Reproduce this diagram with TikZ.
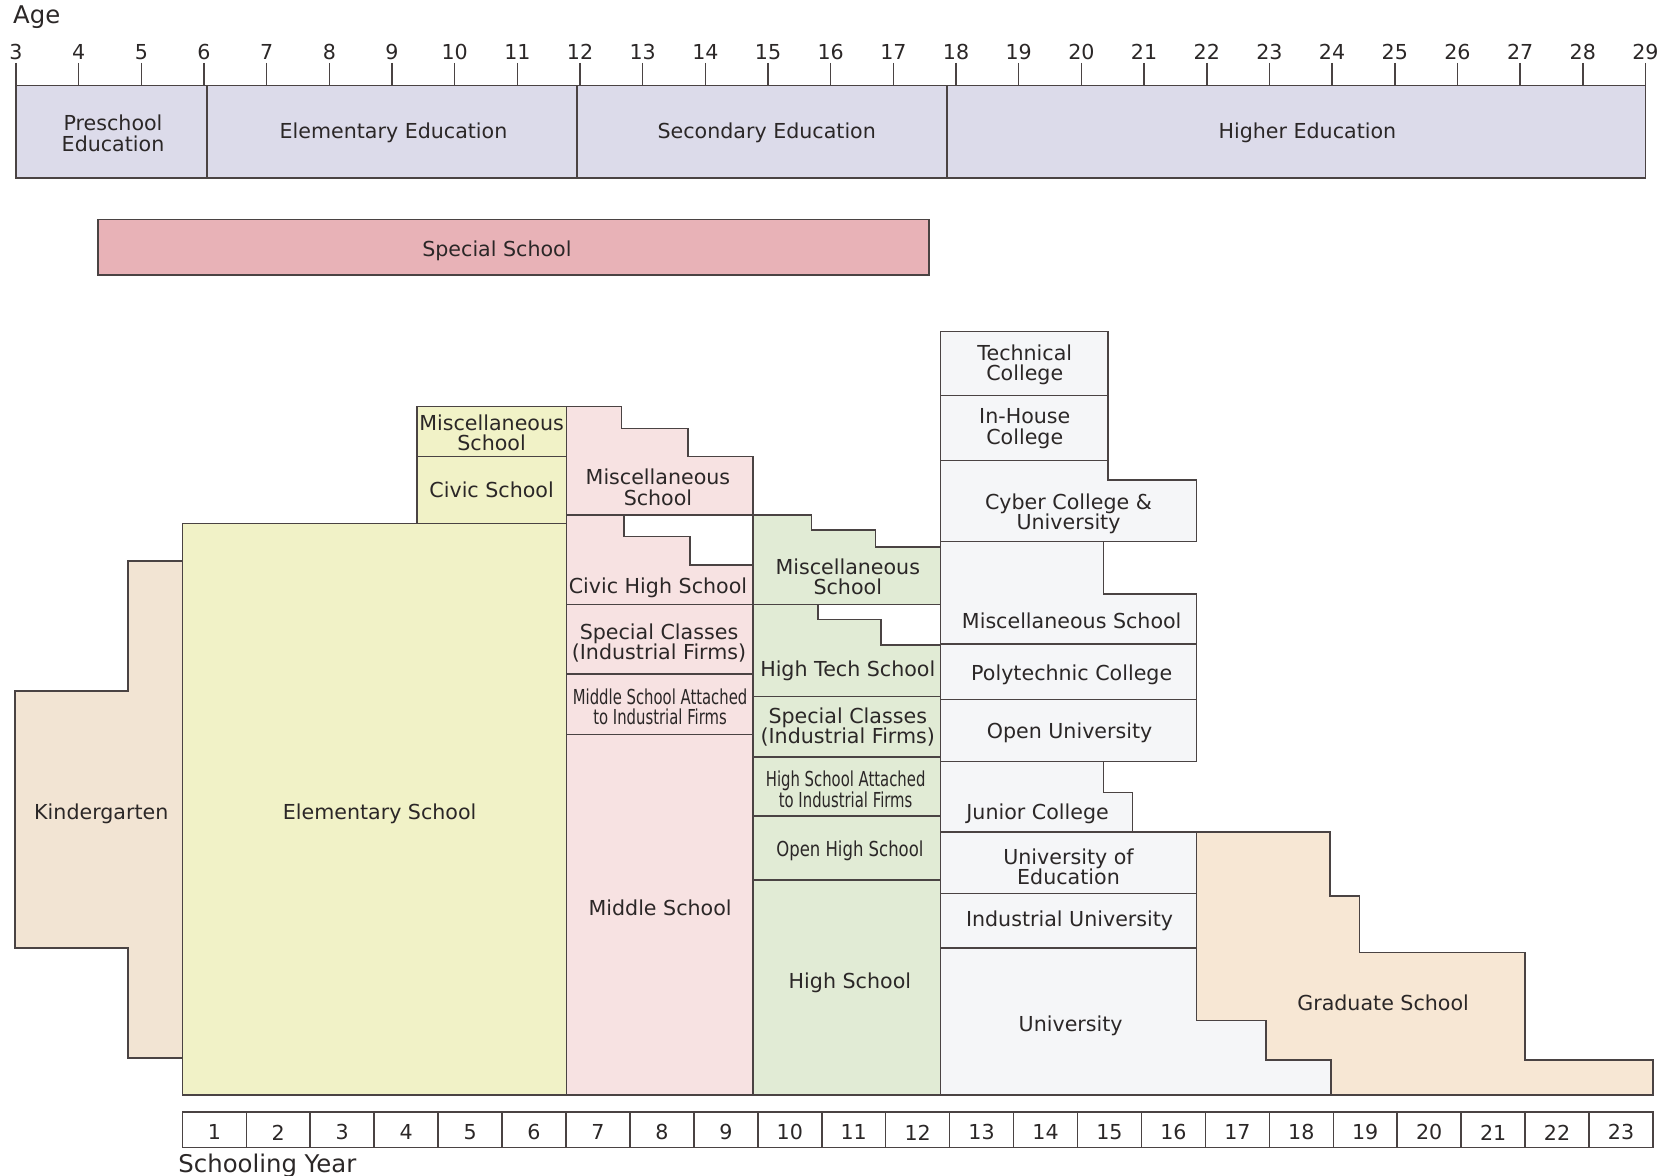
\documentclass[tikz,border=0pt]{standalone}
\usepackage{fontspec}
\setmainfont{DejaVu Sans}
\newfontfamily\narrowfont[FakeStretch=0.72]{DejaVu Sans}
\newfontfamily\semifont[FakeStretch=0.8]{DejaVu Sans}
\usepackage{xcolor}
\usepackage{tikz}
\definecolor{linec}{HTML}{4A4343}
\definecolor{textc}{HTML}{2B2727}
\definecolor{bandc}{HTML}{DCDBEA}
\definecolor{specc}{HTML}{E8B2B7}
\definecolor{kinderc}{HTML}{F2E4D3}
\definecolor{yellowc}{HTML}{F1F2C7}
\definecolor{pinkc}{HTML}{F7E2E2}
\definecolor{greenc}{HTML}{E1EBD5}
\definecolor{greyc}{HTML}{F5F6F8}
\definecolor{gradc}{HTML}{F7E7D4}
\tikzstyle{edge} = [draw=linec, line width=0.8pt, line join=miter]
\tikzstyle{bandbox} = [edge, fill=bandc]
\tikzstyle{specbox} = [edge, fill=specc]
\tikzstyle{kinderbox} = [edge, fill=kinderc]
\tikzstyle{yellowbox} = [edge, fill=yellowc]
\tikzstyle{pinkbox} = [edge, fill=pinkc]
\tikzstyle{greenbox} = [edge, fill=greenc]
\tikzstyle{greybox} = [edge, fill=greyc]
\tikzstyle{gradbox} = [edge, fill=gradc]
\tikzstyle{cellbox} = [edge, fill=white]
\tikzstyle{lbl} = [text=textc, align=center, inner sep=0pt, yshift=-1.1pt, font=\fontsize{11}{11}\selectfont]
\tikzstyle{narrowlbl} = [lbl, font=\fontsize{11}{11}\selectfont\narrowfont]
\tikzstyle{semilbl} = [lbl, font=\fontsize{11}{11}\selectfont\semifont]
\tikzstyle{axislbl} = [text=textc, inner sep=0pt, font=\fontsize{13}{13}\selectfont]

\begin{document}
\begin{tikzpicture}[x=0.02cm, y=-0.02cm]
\useasboundingbox (0,0) rectangle (1567,1102);

\node[axislbl, anchor=west] (age) at (12,16) {Age};
\foreach \a in {3,...,29} {
  \draw[edge] ({15+(\a-3)*58.77},59) -- ({15+(\a-3)*58.77},80);
  \node[lbl] (age\a) at ({15+(\a-3)*58.77},47) {\a};
}
\draw[bandbox] (15,80) rectangle (194,167);
\draw[bandbox] (194,80) rectangle (541,167);
\draw[bandbox] (541,80) rectangle (888,167);
\draw[bandbox] (888,80) rectangle (1543,167);
\node[lbl] (preschool) at (106,123) {Preschool\\Education};
\node[lbl] (elemedu) at (369,123) {Elementary Education};
\node[lbl] (secedu) at (719,123) {Secondary Education};
\node[lbl] (highedu) at (1226,123) {Higher Education};

\draw[specbox] (92,206) rectangle (871,258);
\node[lbl] (special) at (466,233) {Special School};

\draw[kinderbox] (14,648) -- (120,648) -- (120,526) -- (171,526) -- (171,992) -- (120,992) -- (120,889) -- (14,889) -- cycle;
\node[lbl] (kinder) at (95,761) {Kindergarten};
\draw[yellowbox] (171,491) rectangle (531,1027);
\node[lbl] (elem) at (356,761) {Elementary School};
\draw[yellowbox] (391,381) rectangle (531,428);
\node[lbl] (ymisc) at (461,404) {Miscellaneous\\School};
\draw[yellowbox] (391,428) rectangle (531,491);
\node[lbl] (civic) at (461,457) {Civic School};

\draw[pinkbox] (531,381) -- (583,381) -- (583,402) -- (645,402) -- (645,428) -- (706,428) -- (706,483) -- (531,483) -- cycle;
\node[lbl] (pmisc) at (617,455) {Miscellaneous\\School};
\draw[pinkbox] (531,483) -- (585,483) -- (585,503) -- (647,503) -- (647,530) -- (706,530) -- (706,567) -- (531,567) -- cycle;
\node[lbl] (civichigh) at (617,549) {Civic High School};
\draw[pinkbox] (531,567) rectangle (706,632);
\node[lbl] (pclasses) at (618,601) {Special Classes\\(Industrial Firms)};
\draw[pinkbox] (531,632) rectangle (706,689);
\node[narrowlbl] (midattach) at (619,661) {Middle School Attached\\to Industrial Firms};
\draw[pinkbox] (531,689) rectangle (706,1027);
\node[lbl] (middle) at (619,849) {Middle School};

\draw[greenbox] (706,483) -- (761,483) -- (761,497) -- (821,497) -- (821,513) -- (882,513) -- (882,567) -- (706,567) -- cycle;
\node[lbl] (gmisc) at (795,539) {Miscellaneous\\School};
\draw[greenbox] (706,567) -- (767,567) -- (767,581) -- (826,581) -- (826,605) -- (882,605) -- (882,653) -- (706,653) -- cycle;
\node[lbl] (hightech) at (795,627) {High Tech School};
\draw[greenbox] (706,653) rectangle (882,710);
\node[lbl] (gclasses) at (795,680) {Special Classes\\(Industrial Firms)};
\draw[greenbox] (706,710) rectangle (882,765);
\node[narrowlbl] (highattach) at (793,738) {High School Attached\\to Industrial Firms};
\draw[greenbox] (706,765) rectangle (882,825);
\node[semilbl] (openhigh) at (797,796) {Open High School};
\draw[greenbox] (706,825) rectangle (882,1027);
\node[lbl] (high) at (797,920) {High School};

\draw[greybox] (882,311) rectangle (1039,371);
\node[lbl] (technical) at (961,340) {Technical\\College};
\draw[greybox] (882,371) rectangle (1039,432);
\node[lbl] (inhouse) at (961,400) {In-House\\College};
\draw[greybox] (882,432) -- (1039,432) -- (1039,450) -- (1122,450) -- (1122,508) -- (882,508) -- cycle;
\node[lbl] (cyber) at (1002,480) {Cyber College \&\\University};
\draw[greybox] (882,508) -- (1035,508) -- (1035,557) -- (1122,557) -- (1122,604) -- (882,604) -- cycle;
\node[lbl] (hmisc) at (1005,580) {Miscellaneous School};
\draw[greybox] (882,604) rectangle (1122,656);
\node[lbl] (polytech) at (1005,631) {Polytechnic College};
\draw[greybox] (882,656) rectangle (1122,714);
\node[lbl] (openuni) at (1003,685) {Open University};
\draw[greybox] (882,714) -- (1035,714) -- (1035,743) -- (1062,743) -- (1062,780) -- (882,780) -- cycle;
\node[lbl] (junior) at (973,761) {Junior College};
\draw[greybox] (882,780) rectangle (1122,838);
\node[lbl] (uniedu) at (1002,811) {University of\\Education};
\draw[greybox] (882,838) rectangle (1122,889);
\node[lbl] (induni) at (1003,862) {Industrial University};
\draw[greybox] (882,889) -- (1122,889) -- (1122,957) -- (1187,957) -- (1187,994) -- (1248,994) -- (1248,1027) -- (882,1027) -- cycle;
\node[lbl] (uni) at (1004,960) {University};

\draw[gradbox] (1122,780) -- (1247,780) -- (1247,840) -- (1275,840) -- (1275,893) -- (1430,893) -- (1430,994) -- (1550,994) -- (1550,1027) -- (1248,1027) -- (1248,994) -- (1187,994) -- (1187,957) -- (1122,957) -- cycle;
\node[lbl] (grad) at (1297,938) {Graduate School};

\foreach \n in {1,...,23} {
  \draw[cellbox] ({171+(\n-1)*59.96},1043) rectangle ({171+\n*59.96},1076);
  \node[lbl] (yr\n) at ({171+(\n-0.5)*59.96},1060) {\n};
}
\node[axislbl, anchor=west] (schyear) at (167,1093) {Schooling Year};
\end{tikzpicture}
\end{document}
